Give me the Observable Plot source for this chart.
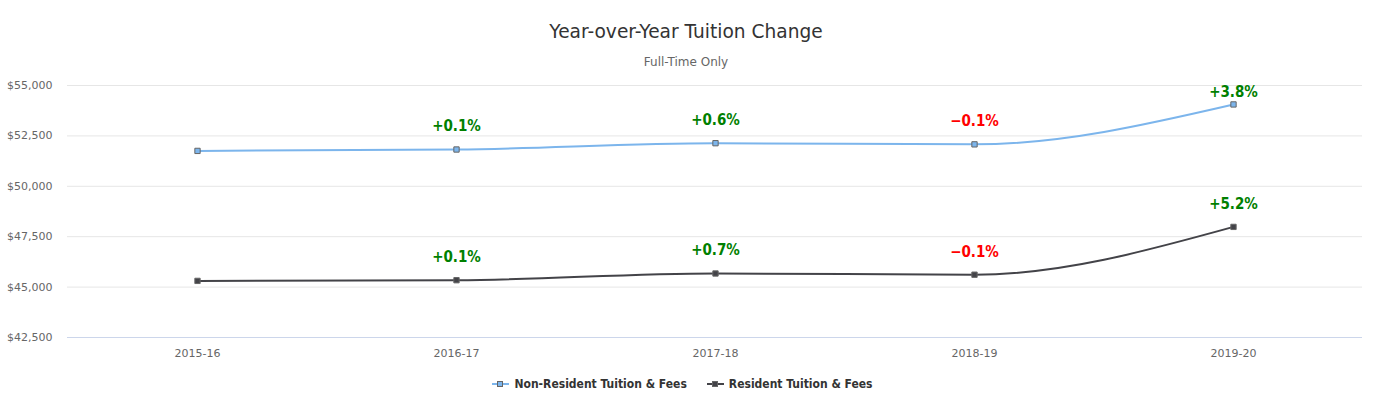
<!DOCTYPE html>
<html>
<head>
<meta charset="utf-8">
<script src="https://cdn.jsdelivr.net/npm/d3@7"></script>
<script src="https://cdn.jsdelivr.net/npm/@observablehq/plot@0.6"></script>
<style>
  html, body { margin: 0; padding: 0; background: #fff; }
  #wrap { position: relative; width: 1379px; height: 399px; font-family: "DejaVu Sans", sans-serif; }
  #legend { position: absolute; left: -7px; top: 377px; width: 1379px; text-align: center; font-size: 12px; font-weight: bold; color: #333; font-family: "DejaVu Sans Condensed", "DejaVu Sans", sans-serif; font-stretch: condensed; }
  .item { display: inline-flex; align-items: center; margin: 0 10px; }
  .item svg { margin-right: 5px; }
</style>
</head>
<body>
<div id="wrap"><div id="chart"></div><div id="legend"></div></div>
<script>
const years = ["2015-16", "2016-17", "2017-18", "2018-19", "2019-20"];
const nonResident = [51756, 51825, 52138, 52080, 54060];
const resident = [45308, 45342, 45675, 45615, 47986];
const nonResidentChange = [null, "+0.1%", "+0.6%", "-0.1%", "+3.8%"];
const residentChange = [null, "+0.1%", "+0.7%", "-0.1%", "+5.2%"];
const yTicks = [42500, 45000, 47500, 50000, 52500, 55000];
const seriesNames = ["Non-Resident Tuition & Fees", "Resident Tuition & Fees"];
const seriesColors = ["#7cb5ec", "#434348"];

const rows = [];
years.forEach((y, i) => {
  rows.push({year: y, value: nonResident[i], series: seriesNames[0], change: nonResidentChange[i]});
});
years.forEach((y, i) => {
  rows.push({year: y, value: resident[i], series: seriesNames[1], change: residentChange[i]});
});
const labels = rows.filter(d => d.change);

const fmt = d => "$" + d3.format(",")(d);

// keep value labels inside the plot area (as the original chart does)
function clampInside(index, scales, values, dimensions, context, next) {
  const minY = dimensions.marginTop + 30;
  const y = Array.from(values.y, v => Math.max(v, minY));
  return next(index, scales, {...values, y}, dimensions, context);
}

const chart = Plot.plot({
  width: 1379,
  height: 399,
  marginTop: 85,
  marginBottom: 62,
  marginLeft: 67,
  marginRight: 17,
  style: {fontFamily: "DejaVu Sans, sans-serif", background: "#fff"},
  x: {type: "point", domain: years, padding: 0.5, label: null},
  y: {domain: [42500, 55000], ticks: yTicks, label: null},
  color: {domain: seriesNames, range: seriesColors},
  marks: [
    Plot.gridY(yTicks, {stroke: "#e6e6e6", strokeOpacity: 1}),
    Plot.ruleY([42500], {stroke: "#ccd6eb"}),
    Plot.axisY({ticks: yTicks, tickSize: 0, tickPadding: 15, tickFormat: fmt, fontSize: 11, fill: "#666", textAnchor: "end"}),
    Plot.axisX({tickSize: 0, tickPadding: 12, fontSize: 11, fill: "#666"}),
    Plot.line(rows, {x: "year", y: "value", z: "series", stroke: "series", strokeWidth: 2, curve: "monotone-x"}),
    Plot.dot(rows, {x: "year", y: "value", fill: "series", stroke: "#666", strokeWidth: 1, symbol: "square", r: 3}),
    Plot.text(labels, {
      x: "year", y: "value", text: d => d.change.replace("-", "\u2212"),
      dy: -23, fontSize: 15, fontWeight: "bold",
      fontFamily: "DejaVu Sans Condensed, DejaVu Sans, sans-serif",
      fontStretch: "condensed",
      fill: d => d.change.startsWith("-") ? "#ff0000" : "#008000",
      render: clampInside
    }),
    Plot.text(["Year-over-Year Tuition Change"], {frameAnchor: "top", lineAnchor: "middle", dx: -29, dy: -53, fontSize: 18.6, fill: "#333"}),
    Plot.text(["Full-Time Only"], {frameAnchor: "top", lineAnchor: "middle", dx: -29, dy: -23, fontSize: 12, fill: "#666"})
  ]
});
document.getElementById("chart").appendChild(chart);

const legend = document.getElementById("legend");
seriesNames.forEach((name, i) => {
  const item = document.createElement("span");
  item.className = "item";
  item.innerHTML = `<svg width="17" height="10"><line x1="0" y1="5" x2="17" y2="5" stroke="${seriesColors[i]}" stroke-width="2"/><rect x="5.5" y="2.5" width="5" height="5" fill="${seriesColors[i]}" stroke="#666" stroke-width="1"/></svg>${name}`;
  legend.appendChild(item);
});
</script>
</body>
</html>
